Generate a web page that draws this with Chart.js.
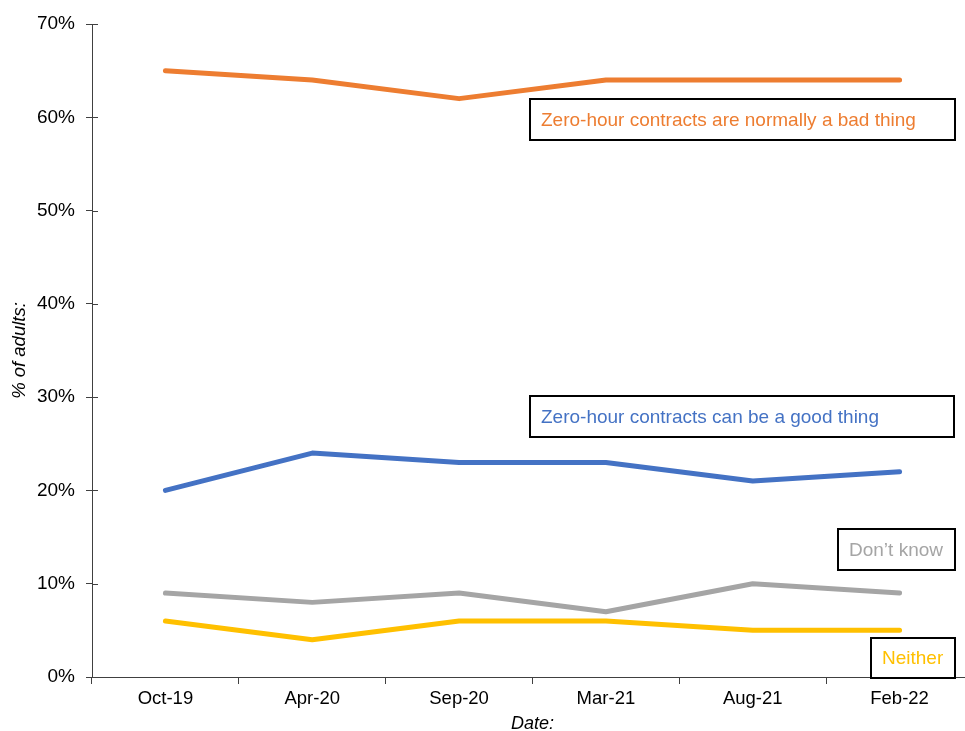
<!DOCTYPE html>
<html>
<head>
<meta charset="utf-8">
<script src="https://cdn.jsdelivr.net/npm/chart.js@4.4.1/dist/chart.umd.min.js"></script>
<style>
    html, body { margin: 0; padding: 0; background: #fff; overflow: hidden; }
    #wrap { width: 980px; height: 731px; }
</style>
</head>
<body>
<div id="wrap"><canvas id="chart" width="980" height="731"></canvas></div>
<script>
const dates = ['Oct-19', 'Apr-20', 'Sep-20', 'Mar-21', 'Aug-21', 'Feb-22'];
const badThing = [65, 64, 62, 64, 64, 64];
const goodThing = [20, 24, 23, 23, 21, 22];
const dontKnow = [9, 8, 9, 7, 10, 9];
const neither = [6, 4, 6, 6, 5, 5];

const seriesNames = [
    'Zero-hour contracts are normally a bad thing',
    'Zero-hour contracts can be a good thing',
    'Don\u2019t know',
    'Neither'
];
const colors = ['#ED7D31', '#4472C4', '#A5A5A5', '#FFC000'];

const FONT = "'Liberation Sans', Arial, sans-serif";
const axisColor = '#404040';

// label boxes: left/top/width/height in px relative to the canvas
const boxes = [
    { text: seriesNames[0], color: colors[0], x: 530, y: 99, w: 425, h: 41 },
    { text: seriesNames[1], color: colors[1], x: 530, y: 396, w: 424, h: 41 },
    { text: seriesNames[2], color: colors[2], x: 838, y: 529, w: 117, h: 41 },
    { text: seriesNames[3], color: colors[3], x: 871, y: 638, w: 84, h: 40 }
];

// y ticks cross the axis, so draw the inner half
const crossTicks = {
    id: 'crossTicks',
    afterDraw(chart) {
        const ctx = chart.ctx;
        const y = chart.scales.y;
        ctx.save();
        ctx.strokeStyle = axisColor;
        ctx.lineWidth = 1;
        y.ticks.forEach(t => {
            const py = Math.round(y.getPixelForValue(t.value)) + 0.5;
            ctx.beginPath();
            ctx.moveTo(y.right, py);
            ctx.lineTo(y.right + 6, py);
            ctx.stroke();
        });
        ctx.restore();
    }
};

const labelBoxes = {
    id: 'labelBoxes',
    afterDraw(chart) {
        const ctx = chart.ctx;
        ctx.save();
        boxes.forEach(b => {
            ctx.fillStyle = '#fff';
            ctx.fillRect(b.x, b.y, b.w, b.h);
            ctx.strokeStyle = '#000';
            ctx.lineWidth = 2;
            ctx.strokeRect(b.x, b.y, b.w, b.h);
            ctx.fillStyle = b.color;
            ctx.font = '19px ' + FONT;
            ctx.textBaseline = 'middle';
            ctx.textAlign = 'left';
            ctx.fillText(b.text, b.x + 11, b.y + b.h / 2 + 1);
        });
        ctx.restore();
    }
};

function makeSet(label, data, color) {
    return {
        label: label,
        data: data,
        borderColor: color,
        backgroundColor: color,
        borderWidth: 5,
        pointRadius: 0,
        borderCapStyle: 'round',
        borderJoinStyle: 'round',
        tension: 0,
        fill: false
    };
}

new Chart(document.getElementById('chart'), {
    type: 'line',
    data: {
        labels: dates,
        datasets: [
            makeSet(seriesNames[0], badThing, colors[0]),
            makeSet(seriesNames[1], goodThing, colors[1]),
            makeSet(seriesNames[2], dontKnow, colors[2]),
            makeSet(seriesNames[3], neither, colors[3])
        ]
    },
    options: {
        responsive: false,
        animation: false,
        layout: { padding: { top: 24, right: 7, left: 0, bottom: 0 } },
        plugins: {
            legend: { display: false },
            tooltip: { enabled: false }
        },
        scales: {
            x: {
                offset: true,
                grid: { offset: true, drawOnChartArea: false, color: axisColor, tickLength: 7 },
                border: { color: axisColor, width: 1 },
                ticks: { color: '#000', font: { family: FONT, size: 18.5 }, padding: 4, maxRotation: 0 },
                title: { display: true, text: 'Date:', color: '#000', font: { family: FONT, size: 18, style: 'italic' }, padding: { top: 0, bottom: -4 } },
                afterFit(scale) { scale.height = 54; }
            },
            y: {
                min: 0,
                max: 70,
                ticks: {
                    stepSize: 10,
                    color: '#000',
                    font: { family: FONT, size: 19 },
                    padding: 11,
                    callback: v => v + '%'
                },
                grid: { drawOnChartArea: false, color: axisColor, tickLength: 6 },
                border: { color: axisColor, width: 1 },
                title: { display: true, text: '% of adults:', color: '#000', font: { family: FONT, size: 18.5, style: 'italic' }, padding: { top: 9, bottom: 0 } },
                afterFit(scale) { scale.width = 92; }
            }
        }
    },
    plugins: [crossTicks, labelBoxes]
});
</script>
</body>
</html>
